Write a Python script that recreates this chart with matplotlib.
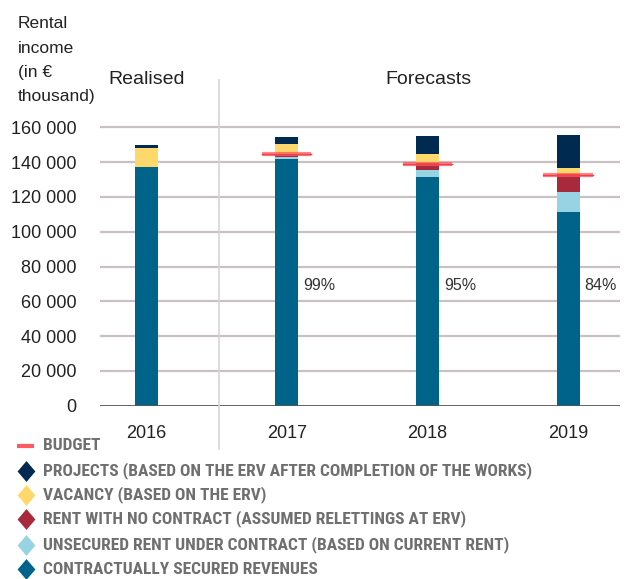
import matplotlib
matplotlib.use("Agg")
import matplotlib.pyplot as plt
from matplotlib.lines import Line2D
import numpy as np

# données (k€)
years = ["2016", "2017", "2018", "2019"]
secured = [137.2, 141.8, 131.4, 111.3]
unsecured = [0.0, 0.9, 4.1, 11.4]
no_contract = [0.0, 1.4, 4.0, 10.5]
vacancy = [10.9, 6.3, 5.2, 3.4]
projects = [1.7, 4.0, 10.3, 19.0]
budget = [None, 144.4, 138.9, 132.6]
pct_labels = ["", "99%", "95%", "84%"]
y_ticks = [0, 20, 40, 60, 80, 100, 120, 140, 160]
ylabel_lines = ["Rental", "income", "(in €", "thousand)"]

series = [
    ("CONTRACTUALLY SECURED REVENUES", secured, "#00638a"),
    ("UNSECURED RENT UNDER CONTRACT (BASED ON CURRENT RENT)", unsecured, "#97d3e2"),
    ("RENT WITH NO CONTRACT (ASSUMED RELETTINGS AT ERV)", no_contract, "#a8283c"),
    ("VACANCY (BASED ON THE ERV)", vacancy, "#ffd86b"),
    ("PROJECTS (BASED ON THE ERV AFTER COMPLETION OF THE WORKS)", projects, "#002a4f"),
]

W, H = 627, 579
fig = plt.figure(figsize=(W / 100, H / 100), dpi=100)
plt.rcParams['font.family'] = ['Liberation Sans', 'DejaVu Sans']
leg_font = dict(family=['Roboto Condensed', 'Liberation Sans'], weight="bold",
                fontsize=12.5, color="#6f6f6f", va="center", ha="left")

# axes placement in pixels
ax_l, ax_r = 100, 620
y0_px, px_per_k = 405.7, 1.74
ymax = 165
ax_top = y0_px - ymax * px_per_k
ax = fig.add_axes([ax_l / W, 1 - y0_px / H, (ax_r - ax_l) / W, (y0_px - ax_top) / H])

x = np.arange(len(years))
step = 140.67
xmin = (ax_l - 146) / step
xmax = (ax_r - 146) / step
bw = 23 / step

bottom = np.zeros(len(years))
for name, vals, col in series:
    v = np.array(vals) * 1000
    ax.bar(x, v, bw, bottom=bottom, color=col, zorder=3)
    bottom += v

for i, b in enumerate(budget):
    if b is None:
        continue
    ax.plot([i - 0.175, i + 0.175], [b * 1000, b * 1000], color="#ff5a5f",
            lw=3, alpha=0.75, solid_capstyle="butt", zorder=4)
    ax.plot([i - 0.175, i + 0.175], [b * 1000, b * 1000], color="#f0404a",
            lw=1, zorder=5)

for i, t in enumerate(pct_labels):
    if t:
        ax.text(i + bw / 2 + 0.035, 68800, t, fontsize=11.5, color="#333333",
                va="center", ha="left")

ax.set_xlim(xmin, xmax)
ax.set_ylim(0, ymax * 1000)
ax.set_yticks([t * 1000 for t in y_ticks])
ax.set_yticklabels(["0" if t == 0 else f"{t} 000" for t in y_ticks])
ax.set_xticks(x)
ax.set_xticklabels(years)
ax.tick_params(axis="y", length=0, pad=17, labelsize=13, labelcolor="#222222")
ax.tick_params(axis="x", length=0, pad=14, labelsize=13, labelcolor="#222222")
for s in ax.spines.values():
    s.set_visible(False)
for t in y_ticks[1:]:
    ax.axhline(t * 1000, color="#cbc0c4", lw=1.6, zorder=1)
ax.axhline(0, color="#555555", lw=2, zorder=4)

# séparateur réalisé / prévisions
fig.add_artist(Line2D([219 / W, 219 / W], [1 - 80 / H, 1 - 449 / H],
                      color="#d5d5d5", lw=1.2))

for k, line in enumerate(ylabel_lines):
    fig.text(18 / W, 1 - (24 + 24.3 * k) / H, line, fontsize=12.5,
             color="#222222", va="center", ha="left")
fig.text(147 / W, 1 - 79 / H, "Realised", fontsize=14, color="#222222",
         ha="center", va="center")
fig.text(428 / W, 1 - 79 / H, "Forecasts", fontsize=14, color="#222222",
         ha="center", va="center")

# légende
diamond = [(0, -1.17), (1, 0), (0, 1.17), (-1, 0), (0, -1.17)]
rows = [446, 470.7, 495, 519, 545, 569]
fig.add_artist(Line2D([17 / W, 34 / W], [1 - rows[0] / H] * 2, color="#ff5a5f",
                      lw=3, solid_capstyle="butt"))
fig.text(43 / W, 1 - rows[0] / H, "BUDGET", **leg_font)
for r, (name, vals, col) in zip(rows[1:], series[::-1]):
    fig.add_artist(Line2D([26 / W], [1 - r / H], marker=diamond, markersize=15,
                          color=col, markeredgewidth=0))
    fig.text(43 / W, 1 - r / H, name, **leg_font)

fig.savefig("out.png", dpi=100)
